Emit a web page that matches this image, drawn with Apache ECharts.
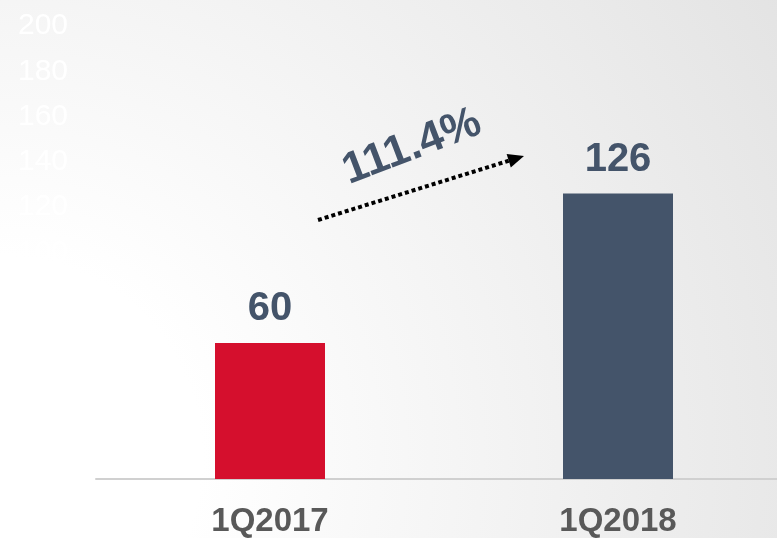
<!DOCTYPE html>
<html>
<head>
<meta charset="utf-8">
<script src="https://cdn.jsdelivr.net/npm/echarts@6/dist/echarts.min.js"></script>
<style>
  html, body { margin: 0; padding: 0; }
  #main { width: 777px; height: 538px; }
</style>
</head>
<body>
<div id="main"></div>
<script>
var categories = ['1Q2017', '1Q2018'];
var values = [60, 126];
var barColors = ['#d50f2d', '#44546a'];
var growthLabel = '111.4%';

var chart = echarts.init(document.getElementById('main'));

// dotted arrow between the bars
var ax1 = 318, ay1 = 220, ax2 = 524, ay2 = 156;
var ang = Math.atan2(ay2 - ay1, ax2 - ax1);
var head = 16, half = 7;
var bx = ax2 - head * Math.cos(ang), by = ay2 - head * Math.sin(ang);
var headPts = [
  [ax2, ay2],
  [bx + half * Math.sin(ang), by - half * Math.cos(ang)],
  [bx - half * Math.sin(ang), by + half * Math.cos(ang)]
];

var option = {
  backgroundColor: {
    type: 'radial',
    x: 0, y: 0.85, r: 1.7,
    colorStops: [
      { offset: 0, color: '#ffffff' },
      { offset: 0.22, color: '#ffffff' },
      { offset: 1, color: '#e3e3e3' }
    ]
  },
  textStyle: { fontFamily: 'Liberation Sans, Arial, sans-serif' },
  grid: {
    left: 96,
    right: -15,
    top: 26,
    bottom: 59,
    containLabel: false,
    outerBoundsMode: 'none'
  },
  xAxis: {
    type: 'category',
    data: categories,
    axisLine: { lineStyle: { color: '#d0d0d0', width: 2 } },
    axisTick: { show: false },
    axisLabel: {
      color: '#595959',
      fontSize: 33,
      fontWeight: 'bold',
      margin: 26
    }
  },
  yAxis: {
    type: 'value',
    min: 0,
    max: 200,
    interval: 20,
    axisLine: { show: false },
    axisTick: { show: false },
    splitLine: { show: false },
    axisLabel: { color: '#ffffff', fontSize: 30, margin: 28 }
  },
  series: [{
    type: 'bar',
    barWidth: 110,
    data: values.map(function (v, i) {
      return { value: v, itemStyle: { color: barColors[i] } };
    }),
    label: {
      show: true,
      position: 'top',
      distance: 14,
      color: '#44546a',
      fontSize: 40,
      fontWeight: 'bold'
    }
  }],
  graphic: [
    {
      type: 'line',
      shape: { x1: ax1, y1: ay1, x2: bx, y2: by },
      style: { stroke: '#000', lineWidth: 4, lineDash: [4, 3] }
    },
    {
      type: 'polygon',
      shape: { points: headPts },
      style: { fill: '#000' }
    },
    {
      type: 'text',
      x: 412,
      y: 147,
      rotation: 21 * Math.PI / 180,
      style: {
        text: growthLabel,
        fill: '#44546a',
        font: 'bold 44px "Liberation Sans", Arial, sans-serif',
        align: 'center',
        verticalAlign: 'middle'
      }
    }
  ]
};

chart.setOption(option);
</script>
</body>
</html>
